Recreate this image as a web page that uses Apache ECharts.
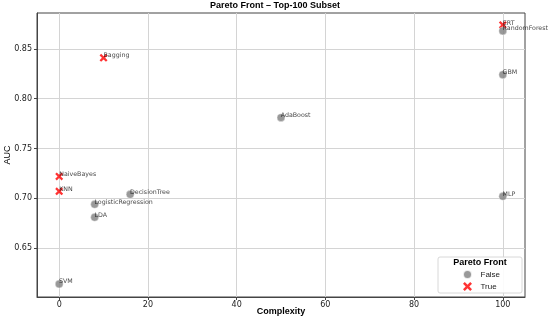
<!DOCTYPE html>
<html>
<head>
<meta charset="utf-8">
<script src="https://cdn.jsdelivr.net/npm/echarts@6/dist/echarts.min.js"></script>
<style>html,body{margin:0;padding:0;background:#fff}#c{width:550px;height:317px}</style>
</head>
<body>
<div id="c"></div>
<script>
// Data
const models = ['ERT','RandomForest','GBM','AdaBoost','Bagging','NaiveBayes','KNN','DecisionTree','LogisticRegression','LDA','SVM','MLP'];
const complexity = [100, 100, 100, 50, 10, 0, 0, 16, 8, 8, 0, 100];
const auc = [0.874, 0.868, 0.824, 0.781, 0.841, 0.722, 0.707, 0.704, 0.694, 0.681, 0.614, 0.702];
const pareto = [true, false, false, false, true, true, true, false, false, false, false, false];
const xTicks = [0, 20, 40, 60, 80, 100];
const yTicks = [0.65, 0.70, 0.75, 0.80, 0.85];

const falseData = [], trueData = [];
models.forEach((m, i) => {
  const item = { name: m, value: [complexity[i], auc[i]] };
  (pareto[i] ? trueData : falseData).push(item);
});

const xPath = 'path://M2,0 L5,3 L8,0 L10,2 L7,5 L10,8 L8,10 L5,7 L2,10 L0,8 L3,5 L0,2 Z';
const axisColor = '#444';
const gridColor = '#d4d4d4';

const chart = echarts.init(document.getElementById('c'), null, { renderer: 'canvas' });
chart.setOption({
  animation: false,
  backgroundColor: '#fff',
  title: {
    text: 'Pareto Front – Top-100 Subset',
    left: 'center',
    top: 1,
    padding: [0, 0, 0, 12],
    textStyle: { fontFamily: 'Liberation Sans', fontWeight: 'bold', fontSize: 9, color: '#000' }
  },
  grid: { left: 37, right: 25, top: 13, bottom: 20, show: true, borderColor: axisColor, borderWidth: 1,
    containLabel: false, outerBoundsMode: 'none' },
  xAxis: {
    type: 'value', min: -5, max: 105,
    name: 'Complexity', nameLocation: 'middle', nameGap: 10.5, nameMoveOverlap: false,
    nameTextStyle: { fontFamily: 'Liberation Sans', fontWeight: 'bold', fontSize: 9, color: '#000',
      verticalAlign: 'top' },
    axisLine: { show: true, onZero: false, lineStyle: { color: axisColor } },
    axisTick: { show: true, length: 3, lineStyle: { color: axisColor }, customValues: xTicks },
    axisLabel: { customValues: xTicks, margin: 4, fontFamily: 'DejaVu Sans', fontSize: 8, color: '#222' },
    splitLine: { show: true, lineStyle: { color: gridColor, width: 1 } }
  },
  yAxis: {
    type: 'value', min: 0.601, max: 0.886,
    name: 'AUC', nameLocation: 'middle', nameGap: 25, nameRotate: 90, nameMoveOverlap: false,
    nameTextStyle: { fontFamily: 'Liberation Sans', fontSize: 9, color: '#000' },
    axisLine: { show: true, onZero: false, lineStyle: { color: axisColor } },
    axisTick: { show: true, length: 3, lineStyle: { color: axisColor }, customValues: yTicks },
    axisLabel: { customValues: yTicks, margin: 5, fontFamily: 'DejaVu Sans', fontSize: 8, color: '#222',
      formatter: v => v.toFixed(2) },
    splitLine: { show: true, lineStyle: { color: gridColor, width: 1 } }
  },
  legend: {
    orient: 'vertical', left: 457, top: 264, itemGap: 2, z: 20,
    itemWidth: 10, itemHeight: 9,
    data: [
      { name: 'False', icon: 'circle' },
      { name: 'True', icon: xPath }
    ],
    textStyle: { fontFamily: 'Liberation Sans', fontSize: 8, color: '#222', padding: [0, 0, 0, 3] }
  },
  graphic: [
    { type: 'rect', x: 438, y: 257, z: 10, shape: { width: 84, height: 36, r: 2 },
      style: { fill: 'rgba(255,255,255,0.9)', stroke: '#d8d8d8', lineWidth: 1 } },
    { type: 'text', x: 480, y: 258, z: 20,
      style: { text: 'Pareto Front', align: 'center', verticalAlign: 'top', font: 'bold 9px "Liberation Sans"', fill: '#000' } }
  ],
  series: [
    {
      name: 'True', type: 'scatter', z: 3, data: trueData,
      symbol: xPath, symbolSize: 8,
      itemStyle: { color: '#ff0000' },
      label: { show: true, formatter: '{b}', position: [4, 5], align: 'left', verticalAlign: 'bottom',
        fontFamily: 'DejaVu Sans', fontSize: 6.3, color: '#111' }
    },
    {
      name: 'False', type: 'scatter', z: 4, data: falseData,
      symbol: 'circle', symbolSize: 8,
      itemStyle: { color: '#808080', borderColor: '#fff', borderWidth: 0.5 },
      label: { show: true, formatter: '{b}', position: [4, 5], align: 'left', verticalAlign: 'bottom',
        fontFamily: 'DejaVu Sans', fontSize: 6.3, color: '#111' }
    }
  ]
});
</script>
</body>
</html>
